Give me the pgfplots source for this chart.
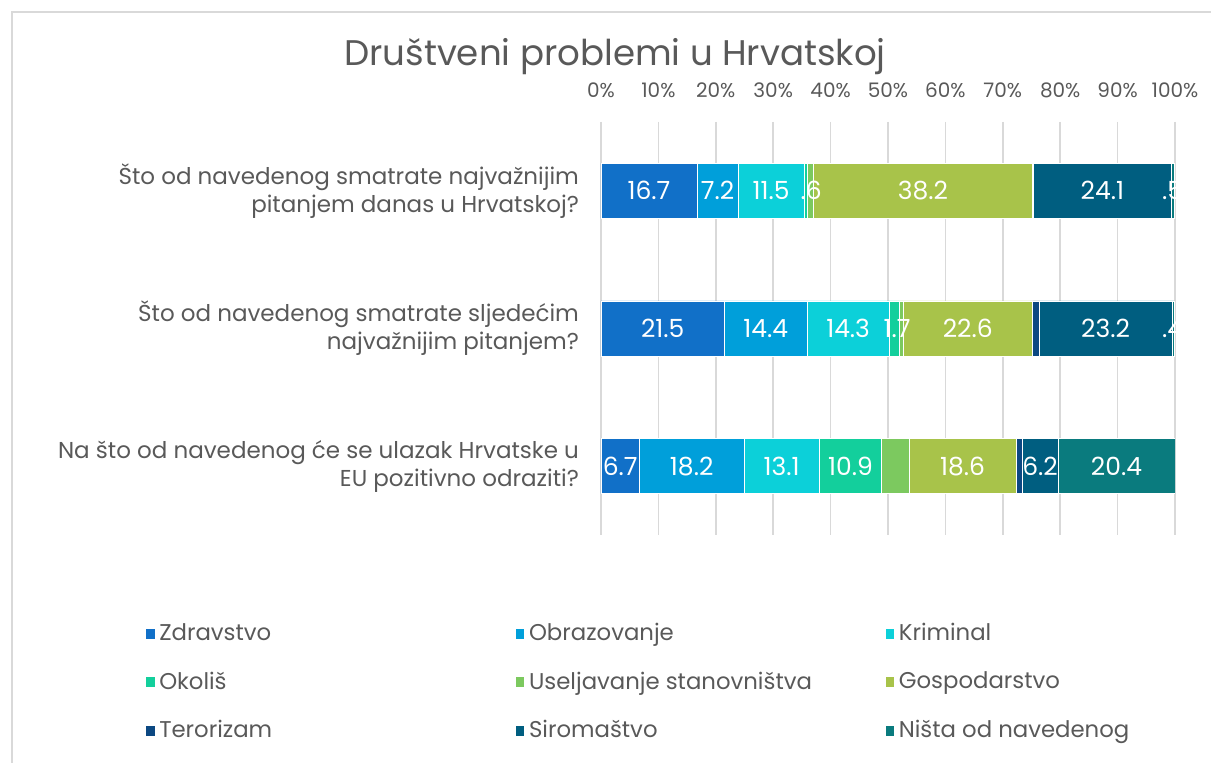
\documentclass[border=0pt]{standalone}
\usepackage{pgfplots}
\pgfplotsset{compat=1.18}
\usepackage{fontspec}
\setmainfont{Poppins}
\definecolor{txt}{HTML}{595959}
\definecolor{cZ}{HTML}{1170C8}
\definecolor{cO}{HTML}{009FDA}
\definecolor{cK}{HTML}{0CD0D9}
\definecolor{cOk}{HTML}{13CF9C}
\definecolor{cU}{HTML}{7CC95F}
\definecolor{cG}{HTML}{A8C34A}
\definecolor{cT}{HTML}{0C4882}
\definecolor{cS}{HTML}{005E80}
\definecolor{cN}{HTML}{0A7B7E}
\definecolor{gridc}{HTML}{D9D9D9}
\pgfplotsset{
  sq/.style={legend image code/.code={\fill[##1] (0pt,-2.8pt) rectangle (4.8pt,2.8pt);}},
  geom/.style={
    at={(300.5pt,114pt)}, anchor=south west,
    width=287pt, height=206.5pt, scale only axis,
    xmin=0, xmax=100, ymin=-0.5, ymax=2.5, y dir=reverse,
  },
}
\newcommand{\lab}[1]{\makebox[175.8pt][l]{#1}}
\begin{document}
\begin{tikzpicture}
\path[use as bounding box] (0,0) rectangle (605.5pt,381.5pt);
\draw[gridc, line width=0.75pt] (6pt,0pt) -- (6pt,375.5pt) -- (605.5pt,375.5pt);
\node[text=txt, font=\fontsize{17.8}{21}\selectfont] at (307.5pt,353pt) {Društveni problemi u Hrvatskoj};
\begin{axis}[geom,
  xbar stacked, bar width=0.4,
  axis line style={draw=none}, major tick length=0pt,
  xmajorgrids, grid style={gridc, line width=0.75pt},
  xtick={0,10,...,100},
  xticklabels={0\%,10\%,20\%,30\%,40\%,50\%,60\%,70\%,80\%,90\%,100\%},
  xticklabel pos=upper,
  xticklabel style={text=txt, font=\fontsize{10}{12}\selectfont, yshift=8.5pt},
  ytick={0,1,2},
  yticklabels={{Što od navedenog smatrate najvažnijim\\pitanjem danas u Hrvatskoj?},
               {Što od navedenog smatrate sljedećim\\najvažnijim pitanjem?},
               {Na što od navedenog će se ulazak Hrvatske u\\EU pozitivno odraziti?}},
  yticklabel style={align=right, text=txt, font=\fontsize{11.5}{14}\selectfont, xshift=-7.5pt},
  legend columns=3,
  legend style={at={(-0.795,-0.203)}, anchor=north west, draw=none, fill=none,
    inner sep=0pt, row sep=10.1pt, font=\fontsize{11.4}{13}\selectfont, text=txt,
    /tikz/every odd column/.append style={column sep=0pt}},
]
\addplot[fill=cZ, draw=white, line width=0.3pt, sq] coordinates {(16.7,0) (21.5,1) (6.7,2)};
\addlegendentry{\lab{Zdravstvo}}
\addplot[fill=cO, draw=white, line width=0.3pt, sq] coordinates {(7.2,0) (14.4,1) (18.2,2)};
\addlegendentry{\lab{Obrazovanje}}
\addplot[fill=cK, draw=white, line width=0.3pt, sq] coordinates {(11.5,0) (14.3,1) (13.1,2)};
\addlegendentry{\lab{Kriminal}}
\addplot[fill=cOk, draw=white, line width=0.3pt, sq] coordinates {(0.6,0) (1.7,1) (10.9,2)};
\addlegendentry{\lab{Okoliš}}
\addplot[fill=cU, draw=white, line width=0.3pt, sq] coordinates {(1.0,0) (0.7,1) (4.8,2)};
\addlegendentry{\lab{Useljavanje stanovništva}}
\addplot[fill=cG, draw=white, line width=0.3pt, sq] coordinates {(38.2,0) (22.6,1) (18.6,2)};
\addlegendentry{\lab{Gospodarstvo}}
\addplot[fill=cT, draw=white, line width=0.3pt, sq] coordinates {(0.1,0) (1.1,1) (1.1,2)};
\addlegendentry{\lab{Terorizam}}
\addplot[fill=cS, draw=white, line width=0.3pt, sq] coordinates {(24.1,0) (23.2,1) (6.2,2)};
\addlegendentry{\lab{Siromaštvo}}
\addplot[fill=cN, draw=white, line width=0.3pt, sq] coordinates {(0.5,0) (0.4,1) (20.4,2)};
\addlegendentry{\lab{Ništa od navedenog}}
\end{axis}
\begin{axis}[geom, hide axis]
\addplot[draw=none, mark=none, nodes near coords, point meta=explicit symbolic,
  every node near coord/.append style={anchor=center, text=white, font=\fontsize{12.5}{14}\selectfont, inner sep=0pt}]
  coordinates {
  (8.35,0) [16.7] (20.3,0) [7.2] (29.65,0) [11.5] (36.6,0) [.6] (56.1,0) [38.2] (87.35,0) [24.1] (99.6,0) [.5]
  (10.75,1) [21.5] (28.7,1) [14.4] (43.05,1) [14.3] (51.6,1) [1.7] (63.9,1) [22.6] (87.9,1) [23.2] (99.6,1) [.4]
  (3.35,2) [6.7] (15.8,2) [18.2] (31.45,2) [13.1] (43.45,2) [10.9] (63.0,2) [18.6] (76.5,2) [6.2] (89.8,2) [20.4]
  };
\end{axis}
\end{tikzpicture}
\end{document}
